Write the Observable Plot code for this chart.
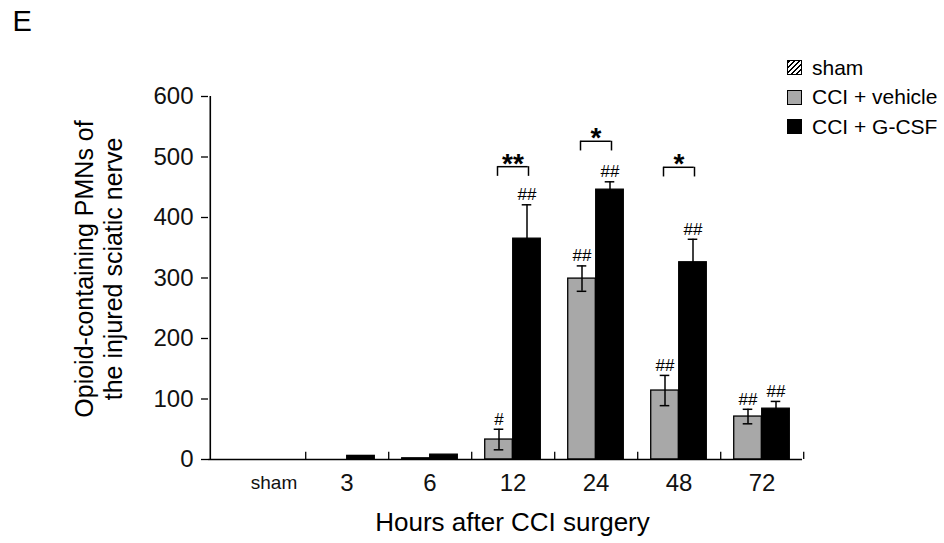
<!DOCTYPE html>
<html><head><meta charset="utf-8">
<script src="https://cdn.jsdelivr.net/npm/d3@7"></script>
<script src="https://cdn.jsdelivr.net/npm/@observablehq/plot@0.6"></script>
<style>
body{margin:0;background:#fff;font-family:"Liberation Sans",Arial,sans-serif;}
#wrap{position:relative;width:944px;height:543px;overflow:hidden;}
#legend{position:absolute;left:787px;top:53px;font-size:21px;color:#000;white-space:nowrap;}
.item{display:flex;align-items:center;height:29.5px;}
.sw{width:13px;height:13px;border:1.5px solid #000;margin-right:10px;flex:none;}
</style></head><body><div id="wrap"><div id="legend"></div></div>
<script>
const categories = ["sham","3","6","12","24","48","72"];
const vehicleMean = [null, 0, 2, 33, 299, 114, 71];
const vehicleErr  = [null, 0, 0, 17, 21, 25, 12];
const gcsfMean    = [null, 6, 8, 365, 446, 326, 84];
const gcsfErr     = [null, 0, 0, 56, 13, 38, 12];
const vehicleSig  = ["", "", "", "#", "##", "##", "##"];
const gcsfSig     = ["", "", "", "##", "##", "##", "##"];
const bracketCats  = ["12", "24", "48"];
const bracketTop   = [484, 526, 483];
const bracketStars = ["**", "*", "*"];
const yTicks = [0, 100, 200, 300, 400, 500, 600];
const legendItems = [
  {label: "sham", bg: "repeating-linear-gradient(135deg,#000 0 1.6px,#fff 1.6px 3.6px)"},
  {label: "CCI + vehicle", bg: "#a8a8a8"},
  {label: "CCI + G-CSF", bg: "#000"}
];

const rows = (means, errs, sigs) => categories.map((c, i) => ({cat: c, v: means[i], e: errs[i], sig: sigs[i]})).filter(d => d.v != null);
const vehicle = rows(vehicleMean, vehicleErr, vehicleSig);
const gcsf = rows(gcsfMean, gcsfErr, gcsfSig);
const brackets = bracketCats.map((c, i) => ({cat: c, top: bracketTop[i], stars: bracketStars[i]}));

const W = 944, H = 543, mL = 208, mR = 142, mT = 96, mB = 84;
const x0 = 220, x1 = 804;
const bw = (x1 - x0) / categories.length;
const barW = 28, off = 14, capW = 10, brW = 31;
const font = '"Liberation Sans", Arial, sans-serif';

function seriesMarks(data, fill, dx) {
  const withErr = data.filter(d => d.e > 0);
  return [
    Plot.barY(data, {x: "cat", y: "v", fill, stroke: "#000", strokeWidth: 1.3,
      insetLeft: (bw - barW) / 2, insetRight: (bw - barW) / 2, dx}),
    Plot.ruleX(withErr, {x: "cat", y1: d => d.v - d.e, y2: d => d.v + d.e, dx, stroke: "#000", strokeWidth: 1.5}),
    Plot.tickY(withErr, {x: "cat", y: d => d.v + d.e, dx, insetLeft: (bw - capW) / 2, insetRight: (bw - capW) / 2, stroke: "#000", strokeWidth: 1.5}),
    Plot.tickY(withErr, {x: "cat", y: d => d.v - d.e, dx, insetLeft: (bw - capW) / 2, insetRight: (bw - capW) / 2, stroke: "#000", strokeWidth: 1.5}),
    Plot.text(data.filter(d => d.sig), {x: "cat", y: d => d.v + d.e, text: "sig", dx, dy: -10, fontSize: 17, fill: "#000", lineAnchor: "middle"})
  ];
}

const chart = Plot.plot({
  width: W, height: H,
  marginLeft: mL, marginRight: mR, marginTop: mT, marginBottom: mB,
  style: {fontFamily: font, background: "transparent", color: "#000", overflow: "visible"},
  x: {type: "band", domain: categories, range: [x0, x1], padding: 0, axis: null},
  y: {domain: [0, 600], label: null},
  marks: [
    Plot.axisY({ticks: yTicks, tickSize: 7, tickPadding: 8, fontSize: 24, fill: "#111", stroke: "#000", strokeWidth: 1.3, label: null}),
    ...seriesMarks(vehicle, "#a8a8a8", -off),
    ...seriesMarks(gcsf, "#000", off),
    Plot.ruleY([0], {stroke: "#000", strokeWidth: 1.6}),
    Plot.ruleX([categories[0]], {x: d => d, y1: 0, y2: 600, dx: -(bw / 2 + (x0 - mL)), stroke: "#000", strokeWidth: 1.6}),
    Plot.ruleX(categories, {x: d => d, y1: 0, y2: 12, dx: bw / 2, stroke: "#000", strokeWidth: 1.3}),
    Plot.tickY(brackets, {x: "cat", y: "top", insetLeft: (bw - brW) / 2, insetRight: (bw - brW) / 2, stroke: "#000", strokeWidth: 1.5}),
    Plot.ruleX(brackets, {x: "cat", y1: d => d.top - 16, y2: "top", dx: -brW / 2, stroke: "#000", strokeWidth: 1.5}),
    Plot.ruleX(brackets, {x: "cat", y1: d => d.top - 16, y2: "top", dx: brW / 2, stroke: "#000", strokeWidth: 1.5}),
    Plot.text(brackets, {x: "cat", y: "top", text: "stars", dy: -3, fontSize: 28, fontWeight: "bold", fill: "#000", lineAnchor: "middle"}),
    Plot.text(categories.filter(c => c === "sham"), {x: d => d, text: d => d, frameAnchor: "bottom", dy: 23, dx: 10, fontSize: 19, fill: "#111", lineAnchor: "middle"}),
    Plot.text(categories.filter(c => c !== "sham"), {x: d => d, text: d => d, frameAnchor: "bottom", dy: 24, fontSize: 24, fill: "#111", lineAnchor: "middle"}),
    Plot.text(["Hours after CCI surgery"], {frameAnchor: "bottom", dy: 63, dx: 7, fontSize: 26, fill: "#000", lineAnchor: "middle"}),
    Plot.text(["Opioid-containing PMNs of\nthe injured sciatic nerve"], {frameAnchor: "left", dx: -110, dy: -9, rotate: -90, fontSize: 25, lineHeight: 1.16, fill: "#000", textAnchor: "middle", lineAnchor: "middle"}),
    Plot.text(["E"], {frameAnchor: "top-left", dx: -(mL - 12), dy: -(mT - 21), fontSize: 29, fill: "#000", textAnchor: "start", lineAnchor: "middle"})
  ]
});
const wrap = document.getElementById("wrap");
wrap.insertBefore(chart, wrap.firstChild);
const legend = document.getElementById("legend");
for (const it of legendItems) {
  const row = document.createElement("div");
  row.className = "item";
  const sw = document.createElement("div");
  sw.className = "sw";
  sw.style.background = it.bg;
  const t = document.createElement("span");
  t.textContent = it.label;
  row.appendChild(sw); row.appendChild(t);
  legend.appendChild(row);
}
</script></body></html>
